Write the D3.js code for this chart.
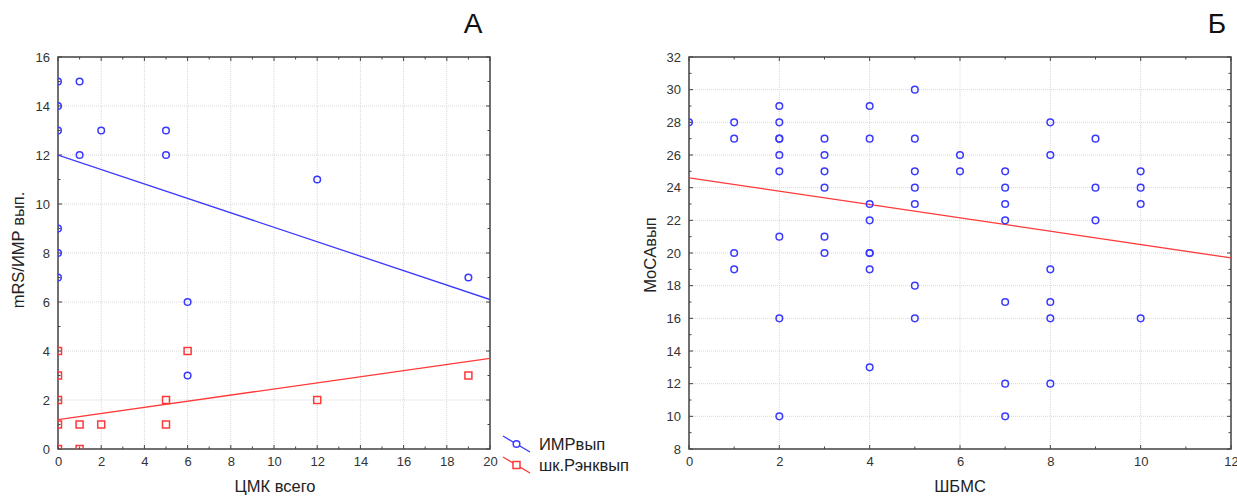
<!DOCTYPE html>
<html>
<head>
<meta charset="utf-8">
<script src="https://cdn.jsdelivr.net/npm/d3@7"></script>
<style>
  body { margin: 0; background: #fff; font-family: "Liberation Sans", Arial, sans-serif; }
  .tick text { fill: #333; font-size: 13px; }
  .grid line { stroke: #d8d8d8; stroke-dasharray: 1,1; }
  .axis-title { font-size: 16.5px; fill: #222; }
</style>
</head>
<body>
<svg id="chart" width="1237" height="497"></svg>
<script>
// Panel A: ЦМК всего vs ИМР / шк.Рэнкин
const imrX = [0, 0, 0, 1, 1, 2, 5, 5, 12, 0, 0, 0, 6, 6, 19];
const imrY = [15, 14, 13, 15, 12, 13, 13, 12, 11, 9, 8, 7, 6, 3, 7];
const rankX = [0, 0, 0, 0, 0, 1, 1, 2, 5, 5, 6, 12, 19];
const rankY = [4, 3, 2, 1, 0, 1, 0, 1, 2, 1, 4, 2, 3];
const imrFit = [[0, 12.0], [20, 6.1]];
const rankFit = [[0, 1.2], [20, 3.7]];

// Panel Б: ШБМС vs MoCA
const shbmsX = [0, 1, 1, 1, 1, 2, 2, 2, 2, 2, 2, 2, 2, 2,
                3, 3, 3, 3, 3, 3, 4, 4, 4, 4, 4, 4, 4, 4,
                5, 5, 5, 5, 5, 5, 5, 6, 6, 7, 7, 7, 7, 7, 7, 7,
                8, 8, 8, 8, 8, 8, 9, 9, 9, 10, 10, 10, 10];
const mocaY = [28, 28, 27, 20, 19, 29, 28, 27, 27, 26, 25, 21, 16, 10,
               27, 26, 25, 24, 21, 20, 29, 27, 23, 22, 20, 20, 19, 13,
               30, 27, 25, 24, 23, 18, 16, 26, 25, 25, 24, 23, 22, 17, 12, 10,
               28, 26, 19, 17, 16, 12, 27, 24, 22, 25, 24, 23, 16];
const mocaFit = [[0, 24.6], [12, 19.7]];

const blue = "#3a3aff";
const red = "#ff3838";

const svg = d3.select("#chart");

function panel(opts) {
    let g = svg.append("g");
    let x = d3.scaleLinear().domain(opts.xDomain).range([opts.left, opts.right]);
    let y = d3.scaleLinear().domain(opts.yDomain).range([opts.bottom, opts.top]);

    let xMajor = d3.range(opts.xDomain[0], opts.xDomain[1] + 0.01, 2);
    let yMajor = d3.range(opts.yDomain[0], opts.yDomain[1] + 0.01, 2);
    let xMinor = d3.range(opts.xDomain[0], opts.xDomain[1] + 0.01, 1);
    let yMinor = d3.range(opts.yDomain[0], opts.yDomain[1] + 0.01, 1);

    // grid
    g.append("g").attr("class", "grid")
        .selectAll("line").data(xMajor).join("line")
        .attr("x1", d => x(d)).attr("x2", d => x(d))
        .attr("y1", opts.top).attr("y2", opts.bottom);
    g.append("g").attr("class", "grid")
        .selectAll("line").data(yMajor).join("line")
        .attr("y1", d => y(d)).attr("y2", d => y(d))
        .attr("x1", opts.left).attr("x2", opts.right);

    // minor ticks, inward on all sides
    let frame = g.append("g").attr("stroke", "#444").attr("stroke-width", 1);
    xMinor.forEach(v => {
        let len = (v % 2 === 0) ? 4 : 2.5;
        frame.append("line").attr("x1", x(v)).attr("x2", x(v)).attr("y1", opts.bottom).attr("y2", opts.bottom - len);
        frame.append("line").attr("x1", x(v)).attr("x2", x(v)).attr("y1", opts.top).attr("y2", opts.top + len);
    });
    yMinor.forEach(v => {
        let len = (v % 2 === 0) ? 4 : 2.5;
        frame.append("line").attr("y1", y(v)).attr("y2", y(v)).attr("x1", opts.left).attr("x2", opts.left + len);
        frame.append("line").attr("y1", y(v)).attr("y2", y(v)).attr("x1", opts.right).attr("x2", opts.right - len);
    });

    // tick labels via d3 axes
    let xAxis = g.append("g")
        .attr("transform", "translate(0," + opts.bottom + ")")
        .call(d3.axisBottom(x).tickValues(xMajor).tickSize(0).tickPadding(8));
    xAxis.select(".domain").remove();
    let yAxis = g.append("g")
        .attr("transform", "translate(" + opts.left + ",0)")
        .call(d3.axisLeft(y).tickValues(yMajor).tickSize(0).tickPadding(8));
    yAxis.select(".domain").remove();

    // frame
    g.append("rect")
        .attr("x", opts.left).attr("y", opts.top)
        .attr("width", opts.right - opts.left).attr("height", opts.bottom - opts.top)
        .attr("fill", "none").attr("stroke", "#444").attr("stroke-width", 1.5);

    // clip
    let clipId = "clip" + opts.id;
    svg.append("defs").append("clipPath").attr("id", clipId)
        .append("rect")
        .attr("x", opts.left).attr("y", opts.top)
        .attr("width", opts.right - opts.left).attr("height", opts.bottom - opts.top);

    let plot = g.append("g").attr("clip-path", "url(#" + clipId + ")");

    // axis titles
    g.append("text").attr("class", "axis-title")
        .attr("x", opts.xTitleX).attr("y", 492)
        .attr("text-anchor", "middle")
        .text(opts.xTitle);
    g.append("text").attr("class", "axis-title")
        .attr("transform", "translate(" + opts.yTitleX + "," + opts.yTitleY + ") rotate(-90)")
        .attr("text-anchor", "middle")
        .text(opts.yTitle);

    // panel letter
    g.append("text")
        .attr("x", opts.letterX).attr("y", 33)
        .attr("text-anchor", "middle")
        .attr("font-size", 28).attr("fill", "#111")
        .text(opts.letter);

    return {x: x, y: y, plot: plot};
}

function line(p, fit, color) {
    p.plot.append("path")
        .datum(fit)
        .attr("d", d3.line().x(d => p.x(d[0])).y(d => p.y(d[1])))
        .attr("fill", "none").attr("stroke", color).attr("stroke-width", 1.3);
}

function circles(p, xs, ys, color) {
    p.plot.selectAll(null).data(xs).join("circle")
        .attr("cx", (d, i) => p.x(d)).attr("cy", (d, i) => p.y(ys[i]))
        .attr("r", 3.3)
        .attr("fill", "none").attr("stroke", color).attr("stroke-width", 1.5);
}

function squares(p, xs, ys, color) {
    p.plot.selectAll(null).data(xs).join("rect")
        .attr("x", (d, i) => p.x(d) - 3.5).attr("y", (d, i) => p.y(ys[i]) - 3.5)
        .attr("width", 7).attr("height", 7)
        .attr("fill", "none").attr("stroke", color).attr("stroke-width", 1.5);
}

// Panel A
let pA = panel({
    id: "A", left: 58, right: 490, top: 57, bottom: 449,
    xDomain: [0, 20], yDomain: [0, 16],
    xTitle: "ЦМК всего", xTitleX: 275,
    yTitle: "mRS/ИМР вып.", yTitleX: 24, yTitleY: 250,
    letter: "А", letterX: 473
});
line(pA, imrFit, blue);
line(pA, rankFit, red);
circles(pA, imrX, imrY, blue);
squares(pA, rankX, rankY, red);

// Panel Б
let pB = panel({
    id: "B", left: 689, right: 1231, top: 57, bottom: 449,
    xDomain: [0, 12], yDomain: [8, 32],
    xTitle: "ШБМС", xTitleX: 960,
    yTitle: "MoCAвып", yTitleX: 656, yTitleY: 255,
    letter: "Б", letterX: 1217
});
line(pB, mocaFit, red);
circles(pB, shbmsX, mocaY, blue);

// legend
let legendItems = [
    {name: "ИМРвып", color: blue, shape: "circle", cy: 444},
    {name: "шк.Рэнквып", color: red, shape: "square", cy: 465}
];
let legend = svg.append("g");
legendItems.forEach(item => {
    legend.append("line")
        .attr("x1", 503).attr("y1", item.cy - 8)
        .attr("x2", 530).attr("y2", item.cy + 8)
        .attr("stroke", item.color).attr("stroke-width", 1.3);
    if (item.shape === "circle") {
        legend.append("circle").attr("cx", 516.5).attr("cy", item.cy).attr("r", 3.3)
            .attr("fill", "#fff").attr("stroke", item.color).attr("stroke-width", 1.5);
    } else {
        legend.append("rect").attr("x", 513).attr("y", item.cy - 3.5).attr("width", 7).attr("height", 7)
            .attr("fill", "#fff").attr("stroke", item.color).attr("stroke-width", 1.5);
    }
    legend.append("text")
        .attr("x", 539).attr("y", item.cy).attr("dy", "0.35em")
        .attr("font-size", 16.5).attr("fill", "#222")
        .text(item.name);
});
</script>
</body>
</html>
